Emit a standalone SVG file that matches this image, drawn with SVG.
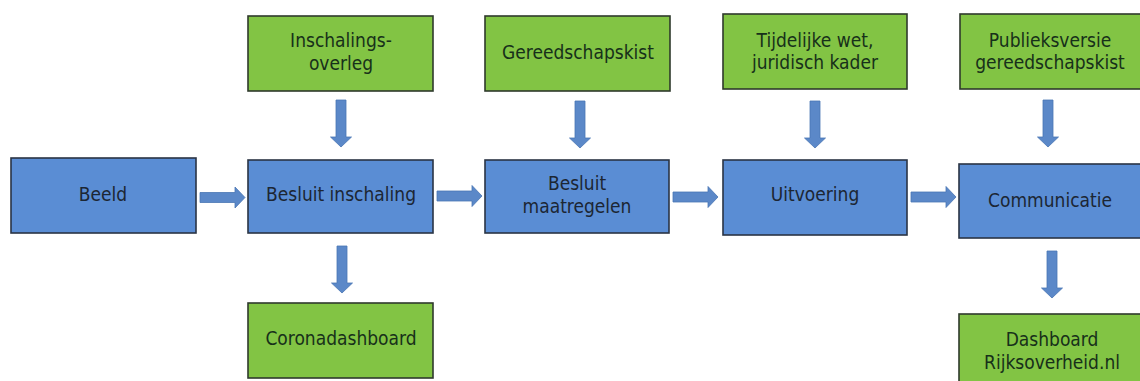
<svg xmlns="http://www.w3.org/2000/svg" width="1140" height="381" viewBox="0 0 1140 381">
<style>
.blue{fill:#5a8dd4;stroke:#2a3444;stroke-width:1.6}
.green{fill:#82c444;stroke:#2f3a2c;stroke-width:1.6}
.t{font-family:"DejaVu Sans Condensed","DejaVu Sans",sans-serif;font-size:19px;text-anchor:middle;fill:#1c2633}
.tg{fill:#17301a}
.arr{fill:#5b88c8;stroke:#4a76b4;stroke-width:0.8}
</style>
<defs>
<path id="ah" d="M0,-5 L35,-5 L35,-10.5 L45,0 L35,10.5 L35,5 L0,5 Z"/>
<path id="av" d="M-5,0 L5,0 L5,37 L10.5,37 L0,47 L-10.5,37 L-5,37 Z"/>
</defs>
<rect width="1140" height="381" fill="#ffffff"/>
<g id="connectors">
<use href="#ah" class="arr" x="200" y="197.5"/>
<use href="#ah" class="arr" x="437" y="196"/>
<use href="#ah" class="arr" x="673" y="197"/>
<use href="#ah" class="arr" x="911" y="197"/>
<use href="#av" class="arr" x="341" y="100"/>
<use href="#av" class="arr" x="580" y="101"/>
<use href="#av" class="arr" x="815" y="101"/>
<use href="#av" class="arr" x="1048" y="100"/>
<use href="#av" class="arr" x="342" y="246"/>
<use href="#av" class="arr" x="1052" y="251"/>
</g>
<g id="n-inschalingsoverleg">
<rect class="green" x="248" y="16" width="185" height="75"/>
<text class="t tg" x="341" y="47">Inschalings-</text>
<text class="t tg" x="341" y="70">overleg</text>
</g>
<g id="n-gereedschapskist">
<rect class="green" x="485" y="16" width="185" height="75"/>
<text class="t tg" x="578" y="59">Gereedschapskist</text>
</g>
<g id="n-tijdelijke">
<rect class="green" x="723" y="14" width="184" height="75"/>
<text class="t tg" x="815" y="47">Tijdelijke wet,</text>
<text class="t tg" x="815" y="69">juridisch kader</text>
</g>
<g id="n-publieksversie">
<rect class="green" x="960" y="14" width="185" height="75"/>
<text class="t tg" x="1050" y="47">Publieksversie</text>
<text class="t tg" x="1050" y="69">gereedschapskist</text>
</g>
<g id="n-beeld">
<rect class="blue" x="11" y="158" width="185" height="75"/>
<text class="t" x="103" y="201">Beeld</text>
</g>
<g id="n-besluit-inschaling">
<rect class="blue" x="248" y="160" width="185" height="73"/>
<text class="t" x="341" y="201">Besluit inschaling</text>
</g>
<g id="n-besluit-maatregelen">
<rect class="blue" x="485" y="160" width="184" height="73"/>
<text class="t" x="577" y="190">Besluit</text>
<text class="t" x="577" y="213">maatregelen</text>
</g>
<g id="n-uitvoering">
<rect class="blue" x="723" y="160" width="184" height="75"/>
<text class="t" x="815" y="201">Uitvoering</text>
</g>
<g id="n-communicatie">
<rect class="blue" x="959" y="164" width="186" height="74"/>
<text class="t" x="1050" y="207">Communicatie</text>
</g>
<g id="n-coronadashboard">
<rect class="green" x="248" y="303" width="185" height="75"/>
<text class="t tg" x="341" y="345">Coronadashboard</text>
</g>
<g id="n-dashboard-rijksoverheid">
<rect class="green" x="959" y="314" width="186" height="75"/>
<text class="t tg" x="1052" y="346">Dashboard</text>
<text class="t tg" x="1052" y="369">Rijksoverheid.nl</text>
</g>
</svg>
